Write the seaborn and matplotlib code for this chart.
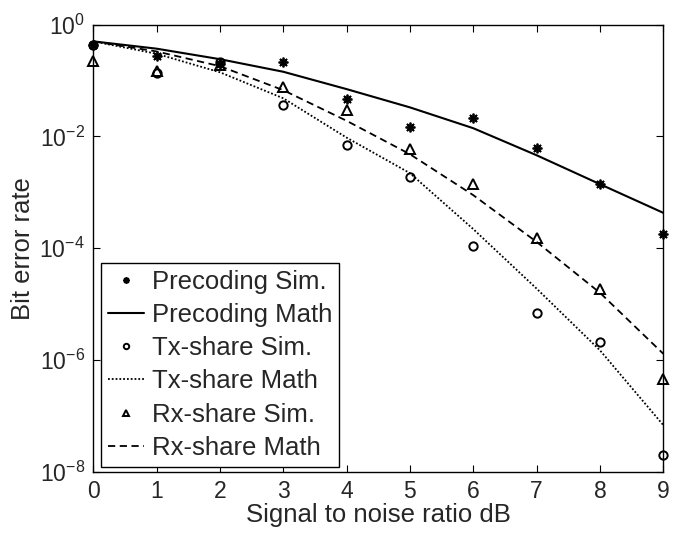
import numpy as np
import pandas as pd
import matplotlib
matplotlib.use("Agg")
import matplotlib.pyplot as plt
import seaborn as sns
from matplotlib.ticker import NullLocator, FixedLocator

snr = [0, 1, 2, 3, 4, 5, 6, 7, 8, 9]

precoding_sim = [0.43, 0.27, 0.20, 0.21, 0.046, 0.015, 0.021, 0.0061, 0.0014, 1.8e-4]
precoding_math = [0.5, 0.37, 0.24, 0.143, 0.07, 0.033, 0.014, 0.0046, 0.0014, 4.3e-4]
tx_sim = [0.43, 0.134, 0.21, 0.037, 0.0069, 0.0019, 1.1e-4, 6.9e-6, 2.1e-6, 2e-8]
tx_math = [0.5, 0.30, 0.14, 0.048, 0.0095, 0.0022, 2.2e-4, 1.9e-5, 1.5e-6, 6.9e-8]
rx_sim = [0.22, 0.15, 0.19, 0.077, 0.03, 0.0059, 0.0014, 1.5e-4, 1.9e-5, 4.6e-7]
rx_math = [0.5, 0.33, 0.18, 0.067, 0.019, 0.0048, 8.9e-4, 1.3e-4, 1.6e-5, 1.3e-6]

xticks = [0, 1, 2, 3, 4, 5, 6, 7, 8, 9]
yticks = [1e0, 1e-2, 1e-4, 1e-6, 1e-8]

sns.set_style("ticks")
plt.rcParams['font.family'] = ['Liberation Sans', 'DejaVu Sans']
plt.rcParams['mathtext.fontset'] = 'custom'
plt.rcParams['mathtext.rm'] = 'Liberation Sans'
plt.rcParams['mathtext.it'] = 'Liberation Sans:italic'
plt.rcParams['xtick.direction'] = 'in'
plt.rcParams['ytick.direction'] = 'in'

FS_TICK = 16.5
FS = 18.5

fig = plt.figure(figsize=(6.81, 5.33), dpi=100)
ax = fig.add_axes([0.137, 0.1144, 0.837, 0.8396])
ax.set_yscale('log')

def sim(vals, marker, ms, label, mew=1.3, filled=False):
    sns.lineplot(x=snr, y=vals, ax=ax, linestyle='', marker=marker,
                 markersize=ms, markerfacecolor='k' if filled else 'none',
                 markeredgecolor='k', markeredgewidth=mew, color='k',
                 label=label, clip_on=False, zorder=5, errorbar=None)

def math(vals, ls, label, lw=1.3):
    sns.lineplot(x=snr, y=vals, ax=ax, linestyle=ls, color='k', linewidth=lw,
                 label=label, errorbar=None)

sim(precoding_sim, (8, 2, 0), 7, 'Precoding Sim.', mew=1.3, filled=True)
math(precoding_math, '-', 'Precoding Math', lw=1.5)
sim(tx_sim, 'o', 6, 'Tx-share Sim.', mew=1.4)
math(tx_math, (0, (1, 1.1)), 'Tx-share Math')
sim(rx_sim, '^', 7.5, 'Rx-share Sim.', mew=1.4)
math(rx_math, (0, (4, 2.5)), 'Rx-share Math')

ax.set_xlim(0, 9)
ax.set_ylim(1e-8, 1e0)
ax.xaxis.set_major_locator(FixedLocator(xticks))
ax.yaxis.set_major_locator(FixedLocator(yticks))
ax.yaxis.set_minor_locator(NullLocator())
ax.tick_params(axis='both', which='both', top=True, right=True, labelsize=FS_TICK,
               length=5, width=0.8, color='k', pad=6)
for s in ax.spines.values():
    s.set_color('k')
    s.set_linewidth(1.0)

ax.set_xlabel('Signal to noise ratio dB', fontsize=FS, labelpad=0)
ax.set_ylabel('Bit error rate', fontsize=FS, labelpad=3)

leg = ax.legend(loc='lower left', bbox_to_anchor=(0.0135, 0.012), borderaxespad=0,
                fontsize=FS, frameon=True, fancybox=False, framealpha=1,
                edgecolor='k', handlelength=1.43, handletextpad=0.3,
                labelspacing=0.36, borderpad=0.26, markerscale=0.65)
leg.get_frame().set_linewidth(1.0)

fig.savefig('out.png', dpi=100)
